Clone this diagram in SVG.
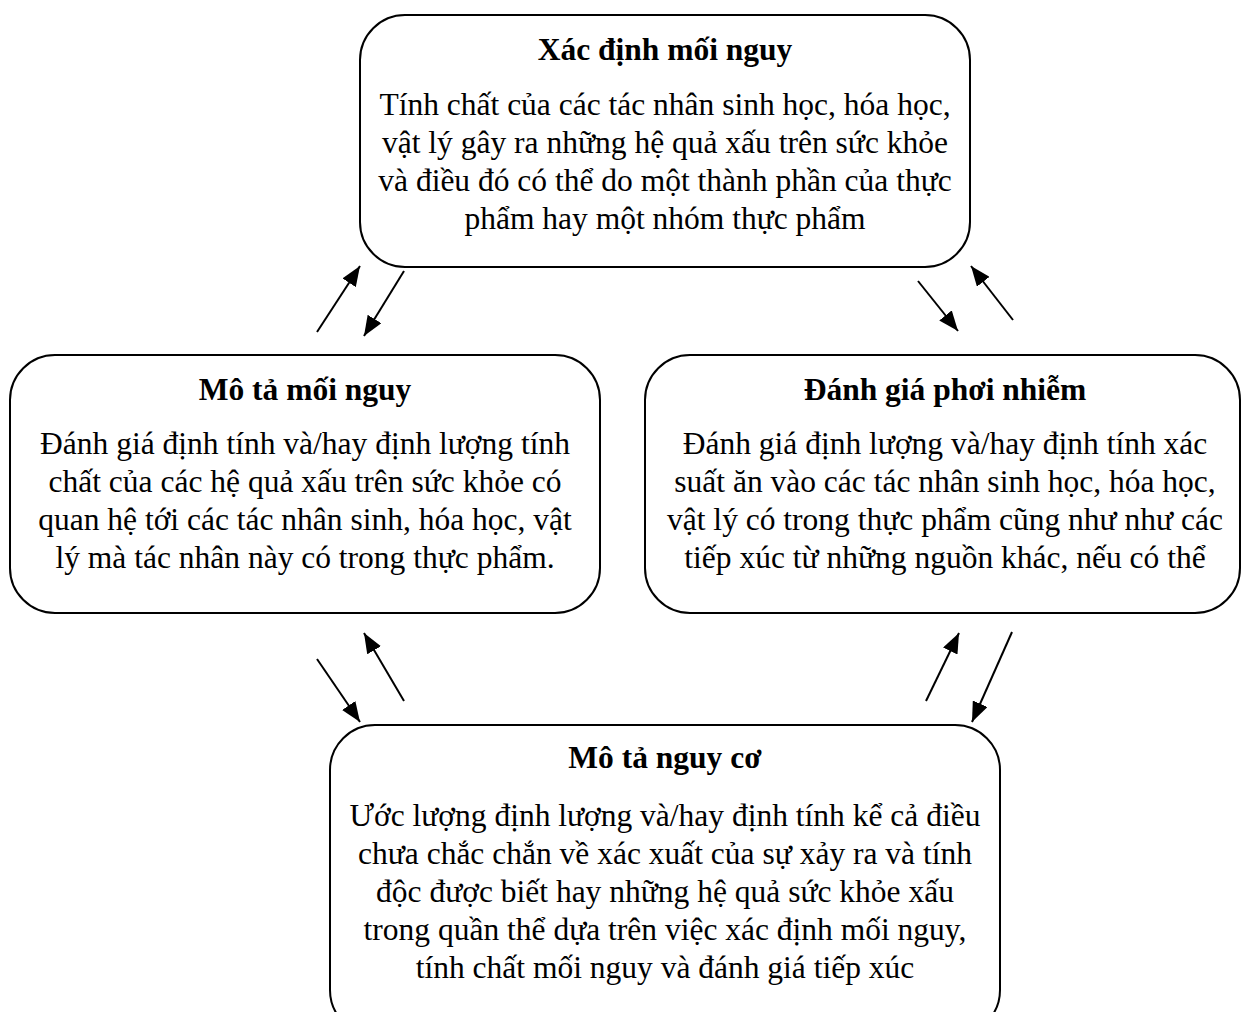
<svg xmlns="http://www.w3.org/2000/svg" width="1243" height="1012" viewBox="0 0 1243 1012">
<style>
.box{fill:#fff;stroke:#000;stroke-width:2}
.t{font-family:"Liberation Serif","Times New Roman",serif;font-size:31.5px;fill:#000;text-anchor:middle}
.b{font-weight:bold}
.c line{stroke:#000;stroke-width:2}
</style>
<defs>
<marker id="ah" viewBox="0 0 20 16" refX="20" refY="8" markerWidth="20" markerHeight="16" markerUnits="userSpaceOnUse" orient="auto">
<path d="M0,0 L20,8 L0,16 Z" fill="#000"/>
</marker>
</defs>
<rect width="1243" height="1012" fill="#fff"/>
<g id="n1">
<rect class="box" x="360" y="15" width="610" height="252" rx="45"/>
<text class="t b" x="665" y="60">Xác định mối nguy</text>
<text class="t" x="665" y="115">Tính chất của các tác nhân sinh học, hóa học,</text>
<text class="t" x="665" y="153">vật lý gây ra những hệ quả xấu trên sức khỏe</text>
<text class="t" x="665" y="191">và điều đó có thể do một thành phần của thực</text>
<text class="t" x="665" y="229">phẩm hay một nhóm thực phẩm</text>
</g>
<g id="n2">
<rect class="box" x="10" y="355" width="590" height="258" rx="45"/>
<text class="t b" x="305" y="400">Mô tả mối nguy</text>
<text class="t" x="305" y="454">Đánh giá định tính và/hay định lượng tính</text>
<text class="t" x="305" y="492">chất của các hệ quả xấu trên sức khỏe có</text>
<text class="t" x="305" y="530">quan hệ tới các tác nhân sinh, hóa học, vật</text>
<text class="t" x="305" y="568">lý mà tác nhân này có trong thực phẩm.</text>
</g>
<g id="n3">
<rect class="box" x="645" y="355" width="595" height="258" rx="45"/>
<text class="t b" x="945" y="400">Đánh giá phơi nhiễm</text>
<text class="t" x="945" y="454">Đánh giá định lượng và/hay định tính xác</text>
<text class="t" x="945" y="492">suất ăn vào các tác nhân sinh học, hóa học,</text>
<text class="t" x="945" y="530">vật lý có trong thực phẩm cũng như như các</text>
<text class="t" x="945" y="568">tiếp xúc từ những nguồn khác, nếu có thể</text>
</g>
<g id="n4">
<rect class="box" x="330" y="725" width="670" height="310" rx="45"/>
<text class="t b" x="665" y="768">Mô tả nguy cơ</text>
<text class="t" x="665" y="826">Ước lượng định lượng và/hay định tính kể cả điều</text>
<text class="t" x="665" y="864">chưa chắc chắn về xác xuất của sự xảy ra và tính</text>
<text class="t" x="665" y="902">độc được biết hay những hệ quả sức khỏe xấu</text>
<text class="t" x="665" y="940">trong quần thể dựa trên việc xác định mối nguy,</text>
<text class="t" x="665" y="978">tính chất mối nguy và đánh giá tiếp xúc</text>
</g>
<g id="connectors" class="c">
<line x1="317" y1="332" x2="360" y2="266" marker-end="url(#ah)"/>
<line x1="404" y1="271" x2="364" y2="336" marker-end="url(#ah)"/>
<line x1="918" y1="281" x2="958" y2="331" marker-end="url(#ah)"/>
<line x1="1013" y1="320" x2="971" y2="266" marker-end="url(#ah)"/>
<line x1="317" y1="659" x2="360" y2="722" marker-end="url(#ah)"/>
<line x1="404" y1="701" x2="364" y2="633" marker-end="url(#ah)"/>
<line x1="926" y1="701" x2="959" y2="633" marker-end="url(#ah)"/>
<line x1="1012" y1="632" x2="972" y2="722" marker-end="url(#ah)"/>
</g>
</svg>
